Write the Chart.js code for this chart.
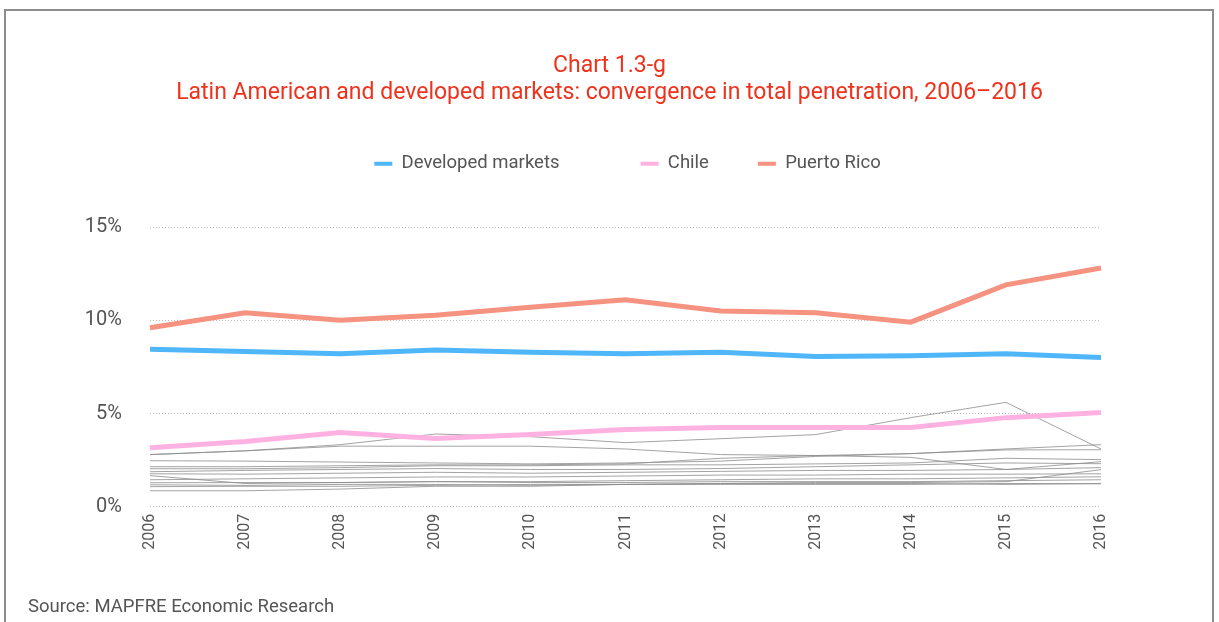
<!DOCTYPE html>
<html>
<head>
<meta charset="utf-8">
<script src="https://cdn.jsdelivr.net/npm/chart.js@4/dist/chart.umd.min.js"></script>
<style>
    html, body { margin: 0; padding: 0; background: #fff; overflow: hidden; }
    #frame { position: absolute; left: 4px; top: 9px; width: 1210px; height: 700px; box-sizing: border-box; border: 2px solid #8c8c8c; }
    #wrap { position: absolute; left: 0; top: 0; width: 1219px; height: 622px; }
</style>
</head>
<body>
<div id="frame"></div>
<div id="wrap"><canvas id="penetration"></canvas></div>
<script>
const years = ['2006', '2007', '2008', '2009', '2010', '2011', '2012', '2013', '2014', '2015', '2016']

// highlighted series, % of GDP
const developed = [8.44, 8.33, 8.2, 8.4, 8.28, 8.2, 8.28, 8.06, 8.1, 8.2, 8.0]
const chile = [3.17, 3.5, 3.98, 3.66, 3.87, 4.14, 4.25, 4.25, 4.25, 4.78, 5.05]
const puertoRico = [9.6, 10.4, 10.0, 10.27, 10.7, 11.1, 10.5, 10.4, 9.9, 11.9, 12.8]

// other Latin American markets (unlabelled grey lines)
const otherA = [2.8, 3.0, 3.33, 3.9, 3.76, 3.44, 3.65, 3.87, 4.78, 5.6, 3.1]
const otherB = [2.8, 3.0, 3.25, 3.25, 3.25, 3.1, 2.8, 2.75, 2.85, 3.1, 3.33]
const otherC = [2.47, 2.45, 2.4, 2.35, 2.3, 2.35, 2.45, 2.7, 2.85, 3.05, 3.06]
const otherD = [2.15, 2.15, 2.2, 2.25, 2.25, 2.3, 2.6, 2.75, 2.65, 2.0, 2.1]
const otherE = [2.04, 2.04, 2.1, 2.2, 2.2, 2.25, 2.25, 2.3, 2.35, 2.6, 2.53]
const otherF = [1.88, 1.95, 2.0, 2.05, 2.0, 2.0, 2.05, 2.15, 2.25, 2.35, 2.31]
const otherG = [1.77, 1.75, 1.8, 1.85, 1.8, 1.85, 1.9, 1.95, 1.95, 2.0, 2.42]
const otherH = [1.67, 1.25, 1.3, 1.35, 1.35, 1.4, 1.45, 1.5, 1.5, 1.55, 1.61]
const otherI = [1.45, 1.5, 1.55, 1.6, 1.6, 1.65, 1.7, 1.7, 1.75, 1.75, 1.77]
const otherJ = [1.29, 1.3, 1.3, 1.35, 1.3, 1.3, 1.35, 1.35, 1.35, 1.4, 1.45]
const otherK = [1.18, 1.15, 1.2, 1.2, 1.15, 1.2, 1.25, 1.25, 1.25, 1.2, 1.24]
const otherL = [1.08, 1.1, 1.1, 1.15, 1.2, 1.2, 1.25, 1.3, 1.3, 1.35, 1.99]
const otherM = [0.86, 0.86, 0.95, 1.1, 1.1, 1.2, 1.2, 1.2, 1.2, 1.25, 1.24]

const others = [otherA, otherB, otherC, otherD, otherE, otherF, otherG, otherH, otherI, otherJ, otherK, otherL, otherM]

const yTicks = [0, 5, 10, 15]

const titleLines = ['Chart 1.3-g', 'Latin American and developed markets: convergence in total penetration, 2006\u20132016']
const sourceText = 'Source: MAPFRE Economic Research'

Chart.defaults.font.family = 'Roboto, "DejaVu Sans", sans-serif'

function mainLine(label, data, color) {
    return {
        label: label,
        data: data,
        borderColor: color,
        backgroundColor: color,
        borderWidth: 5,
        pointRadius: 0,
        tension: 0
    }
}

const datasets = [
    mainLine('Developed markets', developed, 'rgb(80, 182, 250)'),
    mainLine('Chile', chile, 'rgb(255, 178, 226)'),
    mainLine('Puerto Rico', puertoRico, 'rgb(245, 146, 128)')
]
others.forEach((d, i) => {
    datasets.push({
        label: 'other' + i,
        data: d,
        borderColor: 'rgba(140, 140, 140, 0.8)',
        borderWidth: 1,
        pointRadius: 0,
        tension: 0
    })
})

// leave room between the legend and the plot, and nudge the legend into place
const legendTweak = {
    id: 'legendTweak',
    beforeInit(chart) {
        const legend = chart.legend
        const fit = legend.fit
        legend.fit = function () {
            fit.bind(legend)()
            this.height += 43
        }
        const draw = legend.draw
        legend.draw = function () {
            const ctx = chart.ctx
            ctx.save()
            ctx.translate(18, -1)
            draw.bind(legend)()
            ctx.restore()
        }
    }
}

const legendGaps = [34, 0, 0]

const penetration = new Chart(document.getElementById('penetration'), {
    type: 'line',
    data: { labels: years, datasets: datasets },
    plugins: [legendTweak],
    options: {
        responsive: true,
        maintainAspectRatio: false,
        animation: false,
        layout: { padding: { left: 28, right: 28, top: 0, bottom: 0 } },
        plugins: {
            title: {
                display: true,
                text: titleLines,
                color: 'rgb(238, 50, 28)',
                font: { size: 23, weight: 'normal', lineHeight: 27 / 23 },
                padding: { top: 52.5, bottom: 0 }
            },
            subtitle: {
                display: true,
                text: sourceText,
                position: 'bottom',
                align: 'start',
                color: '#555',
                font: { size: 18.5, weight: 'normal', lineHeight: 1.2 },
                padding: { top: 19, bottom: 4 }
            },
            legend: {
                position: 'top',
                labels: {
                    color: '#555',
                    font: { size: 18.5 },
                    boxWidth: 18,
                    boxHeight: 4,
                    padding: 49,
                    filter: item => item.datasetIndex < 3,
                    generateLabels(chart) {
                        const items = Chart.defaults.plugins.legend.labels.generateLabels(chart)
                        items.forEach((it, i) => {
                            if (i < 3 && legendGaps[i]) it.text = it.text + ' '.repeat(Math.round(legendGaps[i] / 4.6))
                            it.lineWidth = 0
                        })
                        return items
                    }
                }
            },
            tooltip: { enabled: false }
        },
        scales: {
            x: {
                grid: { display: false, drawTicks: false },
                border: { display: false },
                ticks: {
                    color: '#555',
                    font: { size: 16 },
                    minRotation: 90,
                    maxRotation: 90,
                    padding: 7
                },
                afterFit(scale) { scale.height = 70 }
            },
            y: {
                min: 0,
                max: 15,
                grid: { color: '#bbb', drawTicks: false, lineWidth: 1 },
                border: { display: false, dash: [1, 2] },
                ticks: {
                    color: '#555',
                    font: { size: 20 },
                    padding: 28,
                    stepSize: 5,
                    callback: v => yTicks.includes(v) ? v + '%' : ''
                },
                afterFit(scale) { scale.width = 122 }
            },
            yRight: {
                position: 'right',
                display: true,
                grid: { display: false, drawTicks: false },
                border: { display: false },
                ticks: { display: false },
                afterFit(scale) { scale.width = 90 }
            }
        }
    }
})
</script>
</body>
</html>
